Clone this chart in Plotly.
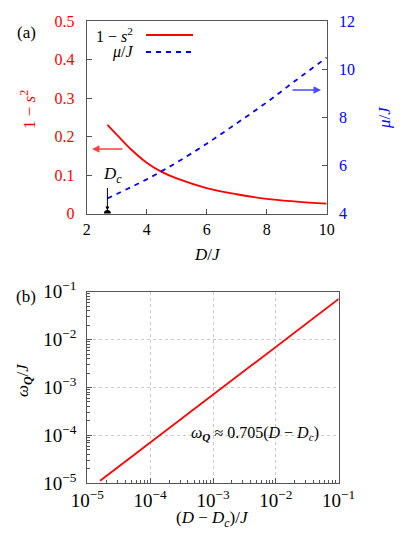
import plotly.graph_objects as go

# panel (a): order parameter and chemical potential vs D/J
D_C = 2.69
D_VALUES = [2.69, 3.0, 3.5, 4.0, 4.5, 5.0, 6.0, 7.0, 8.0, 9.0, 10.0]
ONE_MINUS_S2 = [0.230, 0.205, 0.165, 0.132, 0.108, 0.091, 0.066, 0.050, 0.038, 0.031, 0.0255]
MU_J = [4.63, 4.81, 5.11, 5.42, 5.76, 6.12, 6.90, 7.75, 8.62, 9.56, 10.48]

# panel (b): gap vs distance from the critical point
DELTA_D = [1.6e-5, 1e-4, 1e-3, 1e-2, 1e-1]
OMEGA_Q = [1.13e-5, 7.05e-5, 7.05e-4, 7.05e-3, 7.05e-2]

LOG_TICKS = [1e-5, 1e-4, 1e-3, 1e-2, 1e-1]
LOG_TEXT = ["10<sup>−5</sup>", "10<sup>−4</sup>", "10<sup>−3</sup>", "10<sup>−2</sup>", "10<sup>−1</sup>"]

W, H = 416, 539
FONT = "Liberation Serif"
RED = "#ff0000"
BLUE = "#0000ff"
AX = "#555555"


def px(x):
    return x / W


def py(y):
    return 1 - y / H


fig = go.Figure()

fig.add_trace(go.Scatter(x=D_VALUES, y=ONE_MINUS_S2, mode="lines", line=dict(color=RED, width=1.8, shape="spline"),
                         xaxis="x", yaxis="y", showlegend=False))
fig.add_trace(go.Scatter(x=D_VALUES, y=MU_J, mode="lines", line=dict(color=BLUE, width=1.8, dash="5px,5px", shape="spline"),
                         xaxis="x", yaxis="y2", showlegend=False))
fig.add_trace(go.Scatter(x=[D_C], y=[0], mode="markers", marker=dict(color="black", size=7),
                         xaxis="x", yaxis="y", showlegend=False, cliponaxis=True))
fig.add_trace(go.Scatter(x=DELTA_D, y=OMEGA_Q, mode="lines", line=dict(color=RED, width=1.8),
                         xaxis="x2", yaxis="y3", showlegend=False))

tick_font = dict(family=FONT, size=16, color="black")
common = dict(showline=True, linecolor=AX, linewidth=1, ticks="inside", tickcolor=AX, ticklen=5,
              showgrid=False, zeroline=False, tickfont=tick_font)
log_common = dict(type="log", range=[-5, -1], tickmode="array", tickvals=LOG_TICKS, ticktext=LOG_TEXT,
                  mirror=True,
                  minor=dict(ticks="inside", ticklen=3, tickcolor=AX, tickmode="linear", tick0=0, dtick="D1",
                             showgrid=False),
                  **{**common, "showgrid": True, "gridcolor": "#c8c8c8", "griddash": "dot",
                     "tickfont": dict(family=FONT, size=19, color="black")})

fig.update_layout(
    width=W, height=H,
    margin=dict(l=0, r=0, t=0, b=0, autoexpand=False),
    paper_bgcolor="white", plot_bgcolor="white",
    font=dict(family=FONT, size=16, color="black"),
    xaxis=dict(domain=[px(86.7), px(326.7)], range=[2, 10], tickvals=[2, 4, 6, 8, 10], mirror=True,
               anchor="y", ticklabelstandoff=1, **common),
    yaxis=dict(domain=[py(213.5), py(21)], range=[0, 0.5], tickvals=[0, 0.1, 0.2, 0.3, 0.4, 0.5],
               ticktext=["0", "0.1", "0.2", "0.3", "0.4", "0.5"], anchor="x", ticklabelstandoff=8,
               **{**common, "tickfont": dict(family=FONT, size=16, color=RED)}),
    yaxis2=dict(domain=[py(213.5), py(21)], range=[4, 12], tickvals=[4, 6, 8, 10, 12], overlaying="y",
                side="right", anchor="x", ticklabelstandoff=8,
                **{**common, "tickfont": dict(family=FONT, size=16, color=BLUE)}),
    xaxis2=dict(domain=[px(87.3), px(338.7)], anchor="y3", ticklabelstandoff=0, **log_common),
    yaxis3=dict(domain=[py(483.3), py(291.7)], anchor="x2", ticklabelstandoff=6, **log_common),
)


def label(x, y, text, color="black", angle=0, size=16, xanchor="center"):
    fig.add_annotation(x=px(x), y=py(y), xref="paper", yref="paper", text=text, showarrow=False,
                       textangle=angle, xanchor=xanchor, yanchor="middle",
                       font=dict(family=FONT, size=size, color=color))


# panel letters and axis titles
label(26, 33, "(a)", size=17)
label(26, 297, "(b)", size=17)
label(207, 255, "<i>D</i>/<i>J</i>", size=17)
label(28, 110, "1 − <i>s</i><sup>2</sup>", color=RED, angle=-90, size=17)
label(384, 118, "<i>μ</i>/<i>J</i>", color=BLUE, angle=-90, size=17)
label(212, 519, "(<i>D</i> − <i>D</i><sub><i>c</i></sub>)/<i>J</i>", size=17)
label(24, 380, "<i>ω</i><sub><b><i>Q</i></b></sub>/<i>J</i>", angle=-90, size=17)
label(255, 433, "<i>ω</i><sub><b><i>Q</i></b></sub> ≈ 0.705(<i>D</i> − <i>D</i><sub><i>c</i></sub>)", size=16)

# legend drawn by hand: text on the left, sample line on the right
label(135, 35, "1 − <i>s</i><sup>2</sup>", xanchor="right", size=16)
label(135, 52, "<i>μ</i>/<i>J</i>", xanchor="right", size=16)
fig.add_shape(type="line", xref="paper", yref="paper", x0=px(146), x1=px(193), y0=py(35), y1=py(35),
              line=dict(color=RED, width=1.8))
fig.add_shape(type="line", xref="paper", yref="paper", x0=px(146), x1=px(193), y0=py(52), y1=py(52),
              line=dict(color=BLUE, width=1.8, dash="5px,5px"))

# axis pointer arrows
fig.add_annotation(x=px(92), y=py(149), ax=32, ay=0, xref="paper", yref="paper",
                   text="", showarrow=True, arrowhead=2, arrowsize=1, arrowwidth=1.5, arrowcolor="#ff4040")
fig.add_annotation(x=px(321), y=py(90), ax=-30, ay=0, xref="paper", yref="paper",
                   text="", showarrow=True, arrowhead=2, arrowsize=1, arrowwidth=1.5, arrowcolor="#4a4aff")

# D_c marker label
label(112, 175, "<i>D</i><sub><i>c</i></sub>", size=17)
fig.add_annotation(x=D_C, y=0.008, ax=0, ay=-24, xref="x", yref="y",
                   text="", showarrow=True, arrowhead=2, arrowsize=0.8, arrowwidth=1, arrowcolor="black")

# drop the default page margin so the figure sits at the window's corner
fig.write_html("out.html", config={"displayModeBar": False},
               post_script="document.body.style.margin='0';")
